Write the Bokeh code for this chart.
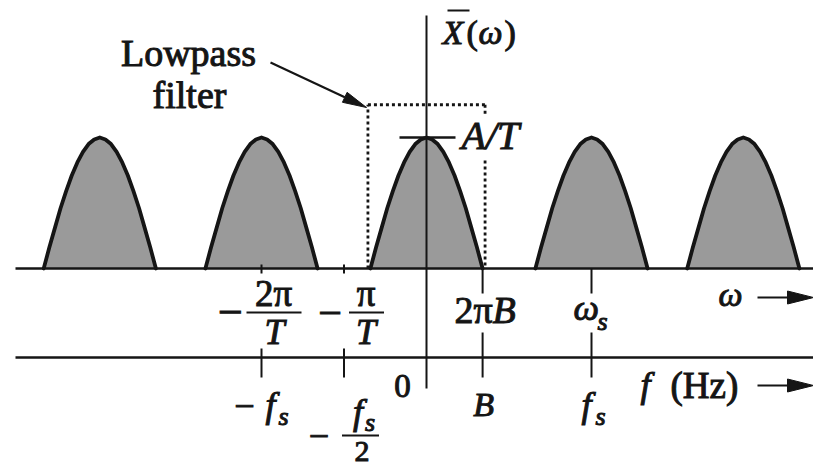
import numpy as np
from bokeh.plotting import figure
from bokeh.models import Range1d, Text
from bokeh.core.properties import value
from bokeh.embed import file_html
from bokeh.resources import INLINE

# ---------------- data (x in multiples of f_s, y relative to the peak A/T) ----------------
hump_centers = [-1.98, -1.0, 0.0, 1.0, 1.92]          # spectral replicas at k*f_s
hump_profile_u = [0.0, 0.1, 0.2, 0.3, 0.4, 0.5, 0.6, 0.7, 0.8, 0.9, 1.0]
hump_profile_y = [1.0, 0.985, 0.95, 0.89, 0.81, 0.71, 0.59, 0.46, 0.31, 0.16, 0.0]
bandwidth_B = 0.34
filter_cutoff = 0.355
filter_gain = 1.25
omega_tick_pos = [-1.0, -0.5, 0.34, 1.0]
f_tick_pos = [-1.0, -0.5, 0.0, 0.34, 1.0]

# ---------------- layout helpers (reference pixel -> data) ----------------
OX, OY = 426.0, 268.0
SX, SY = 165.0, 131.0
def X(px): return (px - OX) / SX
def Y(py): return (OY - py) / SY
def dx(px): return px / SX
def dy(px): return px / SY

SERIF = "Liberation Serif"
INK = "#151515"
FILL = "#9a9a9a"

W, H = 813, 469
p = figure(width=W, height=H, x_range=Range1d(X(0), X(W)), y_range=Range1d(Y(H), Y(0)),
           x_axis_type=None, y_axis_type=None, toolbar_location=None, output_backend="svg",
           min_border=0, outline_line_color=None, background_fill_color="white",
           border_fill_color="white")
p.grid.visible = False

# ---------------- humps ----------------
u = np.array(hump_profile_u)
h = np.array(hump_profile_y)
half_u = np.concatenate([-u[::-1], u[1:]])
half_h = np.concatenate([h[::-1], h[1:]])
xs = [list(c + bandwidth_B * half_u) for c in hump_centers]
ys = [list(half_h) for _ in hump_centers]
p.patches(xs, ys, fill_color=FILL, line_color=None)
p.multi_line(xs, ys, line_color=INK, line_width=3.8, line_join="round", line_cap="round")

# ---------------- axes ----------------
f_level = Y(357)
p.segment(x0=[X(15), X(15)], y0=[0, f_level], x1=[X(W), X(W)], y1=[0, f_level],
          line_color=INK, line_width=2.6)
p.segment(x0=[0], y0=[Y(15)], x1=[0], y1=[Y(388)], line_color=INK, line_width=2.0)

# arrowheads for omega and f axes
for ya in [Y(297), Y(385)]:
    p.segment(x0=[X(757)], y0=[ya], x1=[X(795)], y1=[ya], line_color=INK, line_width=2.0)
    p.patch([X(787), X(813), X(787)], [ya + dy(6.5), ya, ya - dy(6.5)], fill_color=INK, line_color=INK)

# ---------------- lowpass filter (dotted) ----------------
fc, g = filter_cutoff, filter_gain
p.segment(x0=[-fc, -fc, fc, fc], y0=[g, 0, g, Y(160)], x1=[fc, -fc, fc, fc], y1=[g, g, Y(116), 0],
          line_color=INK, line_width=2.8, line_dash="3 3")

# peak marker
p.segment(x0=[X(399)], y0=[1.0], x1=[X(455)], y1=[1.0], line_color=INK, line_width=2.4)

# ---------------- ticks ----------------
for t in omega_tick_pos[:2]:
    p.segment(x0=[t], y0=[dy(4)], x1=[t], y1=[-dy(5)], line_color=INK, line_width=2.0)
    p.segment(x0=[t], y0=[Y(348)], x1=[t], y1=[Y(377)], line_color=INK, line_width=2.0)
for t in omega_tick_pos[2:]:
    p.segment(x0=[t], y0=[0], x1=[t], y1=[Y(293)], line_color=INK, line_width=2.0)
    p.segment(x0=[t], y0=[Y(332)], x1=[t], y1=[Y(377)], line_color=INK, line_width=2.0)

# ---------------- text helpers ----------------
_outline = {}
if "text_outline_color" in Text.properties():
    _outline = dict(text_outline_color=INK)

def _text(x, ymid, s, size, italic, align):
    p.text(x=[x], y=[ymid], text=[s], text_font=value(SERIF), text_font_size=value(f"{size}px"),
           text_font_style="italic" if italic else "normal", text_align=align,
           text_baseline="middle", text_color=INK, **_outline)

def txt(x, base_py, s, size, italic=False, align="center"):
    # position by the middle of the text box so that the baseline lands at base_py
    _text(x, Y(base_py - 0.3375 * size), s, size, italic, align)

def minus(x, center_py, size):
    _text(x, Y(center_py), "−", size, False, "center")

def bar(x0, x1, py):
    p.segment(x0=[x0], y0=[Y(py)], x1=[x1], y1=[Y(py)], line_color=INK, line_width=2.2)

# Lowpass filter label + arrow
txt(X(188), 65, "Lowpass", 38)
txt(X(189), 107, "filter", 38)
tail = np.array([270.0, 62.0]); tip = np.array([366.0, 107.0])
d = tip - tail; d = d / np.hypot(*d); nrm = np.array([-d[1], d[0]])
base = tip - 24 * d
p.segment(x0=[X(tail[0])], y0=[Y(tail[1])], x1=[X(base[0])], y1=[Y(base[1])], line_color=INK, line_width=2.2)
tri = [tip, base + 5.5 * nrm, base - 5.5 * nrm]
p.patch([X(q[0]) for q in tri], [Y(q[1]) for q in tri], fill_color=INK, line_color=INK)

# X-bar(omega)
txt(X(442), 43, "X", 34, italic=True, align="left")
p.segment(x0=[X(447)], y0=[Y(10)], x1=[X(469)], y1=[Y(10)], line_color=INK, line_width=2.0)
txt(X(466), 43, "(", 34, align="left")
txt(X(478), 43, "ω", 34, italic=True, align="left")
txt(X(504), 43, ")", 34, align="left")

# A/T
txt(X(461), 148, "A/T", 40, italic=True, align="left")

# ---------------- omega-axis labels ----------------
t = omega_tick_pos[0]
minus(t - dx(31), 312, 44)
txt(t + dx(12), 305, "2π", 37)
bar(t - dx(15), t + dx(40), 312)
txt(t + dx(13), 344, "T", 36, italic=True)

t = omega_tick_pos[1]
minus(t - dx(14), 312, 42)
txt(t + dx(22), 305, "π", 37)
bar(t + dx(5), t + dx(40), 312)
txt(t + dx(22), 344, "T", 36, italic=True)

t = omega_tick_pos[2]
txt(t + dx(10), 322, "2π", 38, align="right")
txt(t + dx(10), 322, "B", 38, italic=True, align="left")

t = omega_tick_pos[3]
txt(t - dx(18), 320, "ω", 36, italic=True, align="left")
txt(t + dx(6), 330, "s", 26, italic=True, align="left")

txt(X(718), 305, "ω", 34, italic=True, align="left")

# ---------------- f-axis labels ----------------
t = f_tick_pos[0]
minus(t - dx(17), 405, 36)
txt(t + dx(9), 417, "f", 36, italic=True)
txt(t + dx(22), 425, "s", 26, italic=True)

t = f_tick_pos[1]
minus(t - dx(25), 435, 36)
txt(t + dx(14), 424, "f", 36, italic=True)
txt(t + dx(26), 431, "s", 26, italic=True)
bar(t - dx(2), t + dx(35), 435)
txt(t + dx(18), 461, "2", 30)

t = f_tick_pos[2]
txt(t - dx(24), 397, "0", 33)

t = f_tick_pos[3]
txt(t + dx(1), 415, "B", 34, italic=True)

t = f_tick_pos[4]
txt(t - dx(5), 417, "f", 36, italic=True)
txt(t + dx(9), 425, "s", 26, italic=True)

txt(X(640), 397, "f", 36, italic=True, align="left")
txt(X(670), 397, "(Hz)", 37, align="left")

open("out.html", "w").write(file_html(p, INLINE))
